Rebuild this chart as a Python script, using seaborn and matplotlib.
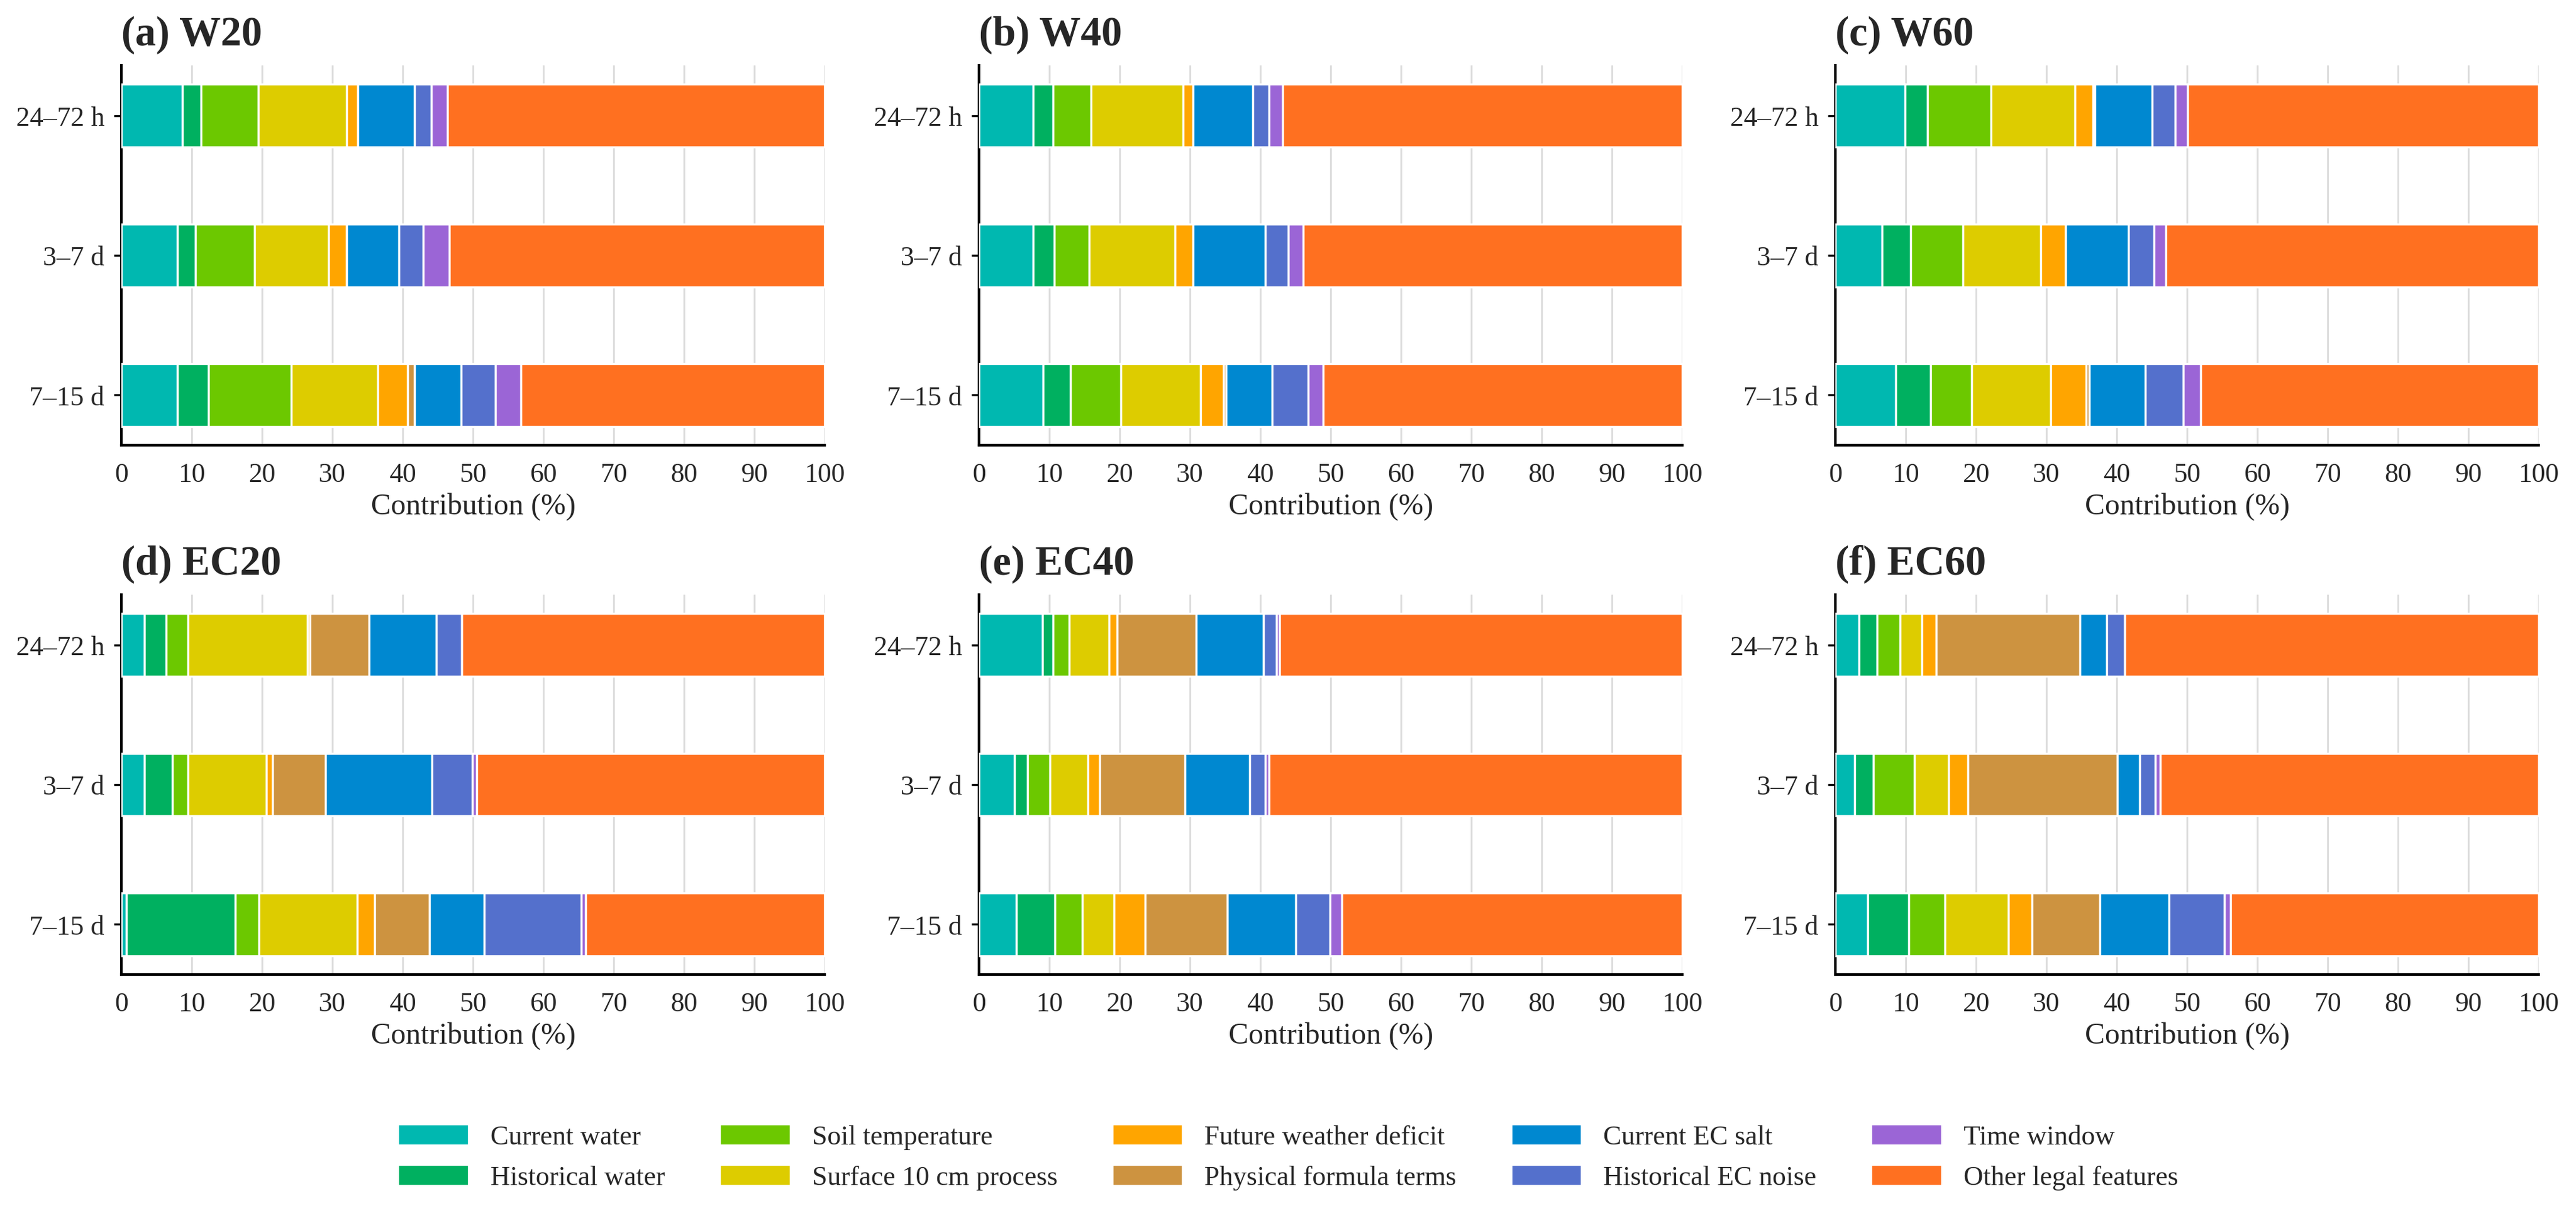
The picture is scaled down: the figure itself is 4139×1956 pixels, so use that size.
import numpy as np
import matplotlib.pyplot as plt
import seaborn as sns

# === Data (percent contributions) ===
horizons = ['24–72 h', '3–7 d', '7–15 d']
groups = ['Current water', 'Historical water', 'Soil temperature', 'Surface 10 cm process',
          'Future weather deficit', 'Physical formula terms', 'Current EC salt',
          'Historical EC noise', 'Time window', 'Other legal features']
colors = ['#00B8B0', '#00B060', '#6CC800', '#DDCC00', '#FFA500',
          '#CD9340', '#0088D0', '#5470CC', '#9B65D6', '#FF7020']

panel_titles = ['(a) W20', '(b) W40', '(c) W60', '(d) EC20', '(e) EC40', '(f) EC60']

# rows = horizons, columns = first 9 groups ("Other" is the remainder to 100)
w20 = [[8.7, 2.6, 8.2, 12.5, 1.6, 0.0, 8.1, 2.4, 2.3],
       [8.0, 2.5, 8.4, 10.6, 2.5, 0.0, 7.5, 3.4, 3.7],
       [8.0, 4.4, 11.8, 12.3, 4.2, 1.0, 6.6, 4.9, 3.6]]
w40 = [[7.7, 2.8, 5.4, 13.1, 1.4, 0.0, 8.5, 2.3, 2.0],
       [7.7, 3.0, 5.0, 12.2, 2.5, 0.0, 10.3, 3.3, 2.1],
       [9.1, 3.9, 7.2, 11.3, 3.3, 0.3, 6.6, 5.1, 2.1]]
w60 = [[9.9, 3.2, 9.0, 12.0, 2.5, 0.3, 8.1, 3.3, 1.8],
       [6.6, 4.1, 7.4, 11.1, 3.5, 0.0, 9.0, 3.6, 1.7],
       [8.6, 4.9, 5.9, 11.2, 5.1, 0.4, 8.0, 5.4, 2.4]]
ec20 = [[3.3, 3.1, 3.1, 17.0, 0.3, 8.4, 9.6, 3.6, 0.0],
        [3.3, 4.0, 2.2, 11.1, 0.9, 7.5, 15.2, 5.7, 0.6],
        [0.7, 15.5, 3.4, 13.9, 2.5, 7.8, 7.8, 13.8, 0.6]]
ec40 = [[9.0, 1.5, 2.3, 5.7, 1.1, 11.3, 9.5, 1.9, 0.4],
        [5.0, 1.9, 3.2, 5.4, 1.7, 12.1, 9.2, 2.2, 0.5],
        [5.3, 5.5, 3.9, 4.5, 4.4, 11.7, 9.7, 4.9, 1.7]]
ec60 = [[3.4, 2.5, 3.3, 3.1, 2.0, 20.5, 3.8, 2.5, 0.0],
        [2.7, 2.7, 5.8, 4.9, 2.7, 21.3, 3.2, 2.2, 0.7],
        [4.6, 5.8, 5.2, 9.0, 3.4, 9.6, 9.8, 7.9, 0.9]]
panels = [w20, w40, w60, ec20, ec40, ec60]

# === Style ===
sns.set_theme(style='white')
plt.rcParams['font.family'] = ['Liberation Serif', 'DejaVu Serif']

fig = plt.figure(figsize=(13.797, 6.523), dpi=300)
W, H = 4139, 1957
lefts = [195, 1573, 2949]
tops = [106, 956]
aw, ah = 1130, 610

for i, (title, vals) in enumerate(zip(panel_titles, panels)):
    r, c = divmod(i, 3)
    ax = fig.add_axes([lefts[c] / W, 1 - (tops[r] + ah) / H, aw / W, ah / H])
    vals = np.array(vals)
    other = 100 - vals.sum(axis=1)
    full = np.column_stack([vals, other])
    y = np.arange(len(horizons))
    left = np.zeros(len(horizons))
    for k in range(full.shape[1]):
        ax.barh(y, full[:, k], left=left, height=0.45, color=colors[k],
                edgecolor='white', linewidth=0.8, label=groups[k], zorder=3)
        left += full[:, k]
    ax.set_yticks(y)
    ax.set_yticklabels(horizons, fontsize=10.5)
    ax.set_ylim(2.36, -0.36)
    ax.set_xlim(0, 100)
    ax.set_xticks(range(0, 101, 10))
    ax.tick_params(axis='x', labelsize=10.5, length=3, width=0.8, color='black')
    ax.tick_params(axis='y', length=3, width=0.8, color='black', left=True)
    ax.xaxis.grid(True, color='#dddddd', linewidth=0.7, zorder=0)
    ax.set_axisbelow(True)
    sns.despine(ax=ax)
    for s in ['left', 'bottom']:
        ax.spines[s].set_color('black')
        ax.spines[s].set_linewidth(1.0)
    ax.set_xlabel('Contribution (%)', fontsize=11.5, labelpad=2)
    ax.set_title(title, fontsize=16, fontweight='bold', loc='left', x=-0.0, pad=8)
    if i == 0:
        handles, labels = ax.get_legend_handles_labels()

fig.legend(handles, labels, loc='center', bbox_to_anchor=(0.5, 0.05), ncol=5,
           frameon=False, fontsize=10.5, handlelength=2.6, handleheight=0.8,
           columnspacing=2.0, labelspacing=0.55)

fig.savefig('out.png', dpi=300)
